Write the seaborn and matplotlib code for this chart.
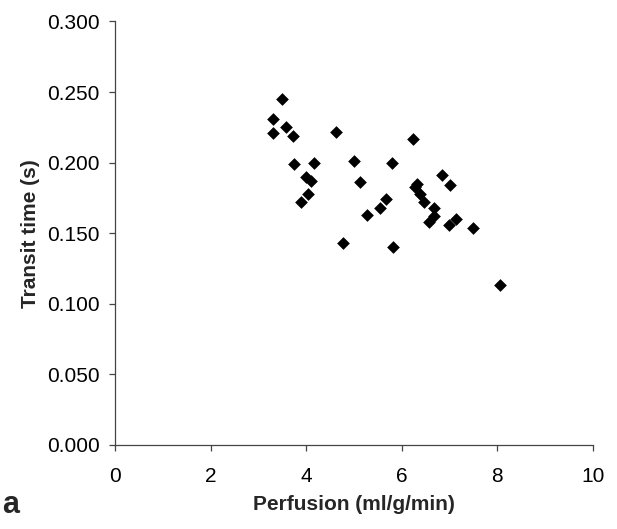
import numpy as np
import pandas as pd
import seaborn as sns
import matplotlib
matplotlib.use('Agg')
import matplotlib.pyplot as plt
from matplotlib.ticker import FormatStrFormatter

sns.set_style('ticks')
plt.rcParams['font.family'] = ['Liberation Sans', 'DejaVu Sans']

# values
perfusion = [3.50, 3.31, 3.30, 3.59, 3.72, 4.62, 6.24, 3.75, 4.17, 5.00,
             5.80, 4.00, 4.10, 5.13, 6.32, 4.03, 3.90, 5.67, 5.55, 5.27,
             4.77, 5.81, 6.84, 7.01, 6.27, 6.38, 6.46, 6.67, 6.68, 6.58,
             6.99, 7.13, 7.50, 8.06]
transit = [0.245, 0.231, 0.221, 0.225, 0.219, 0.222, 0.217, 0.199, 0.200, 0.201,
           0.200, 0.190, 0.187, 0.186, 0.185, 0.178, 0.172, 0.174, 0.168, 0.163,
           0.143, 0.140, 0.191, 0.184, 0.183, 0.178, 0.172, 0.168, 0.162, 0.158,
           0.156, 0.160, 0.154, 0.113]

df = pd.DataFrame({'Perfusion': perfusion, 'Transit': transit})

fig = plt.figure(figsize=(6.17, 5.29), dpi=100)
ax = fig.add_axes([0.1864, 0.1588, 0.7742, 0.8006])

sns.scatterplot(data=df, x='Perfusion', y='Transit', marker='D', color='black',
                s=42, linewidth=0, ax=ax)

ax.set_xlim(0, 10)
ax.set_ylim(0, 0.3)
ax.set_xticks(np.arange(0, 11, 2))
ax.set_yticks(np.arange(0, 0.301, 0.05))
ax.yaxis.set_major_formatter(FormatStrFormatter('%.3f'))

for side in ['top', 'right']:
    ax.spines[side].set_visible(False)
for side in ['left', 'bottom']:
    ax.spines[side].set_color('#444444')
    ax.spines[side].set_linewidth(0.9)

ax.tick_params(axis='both', direction='out', length=4, width=0.9,
               color='#444444', labelsize=15, labelcolor='black')
ax.tick_params(axis='y', pad=7)
ax.tick_params(axis='x', pad=12)

ax.set_xlabel('Perfusion (ml/g/min)', fontsize=15, fontweight='bold', labelpad=6)
ax.set_ylabel('Transit time (s)', fontsize=15, fontweight='bold', labelpad=5)

fig.text(0.004, 0.03, 'a', fontsize=22, fontweight='bold', va='baseline', ha='left')

fig.savefig('out.png', dpi=100)
